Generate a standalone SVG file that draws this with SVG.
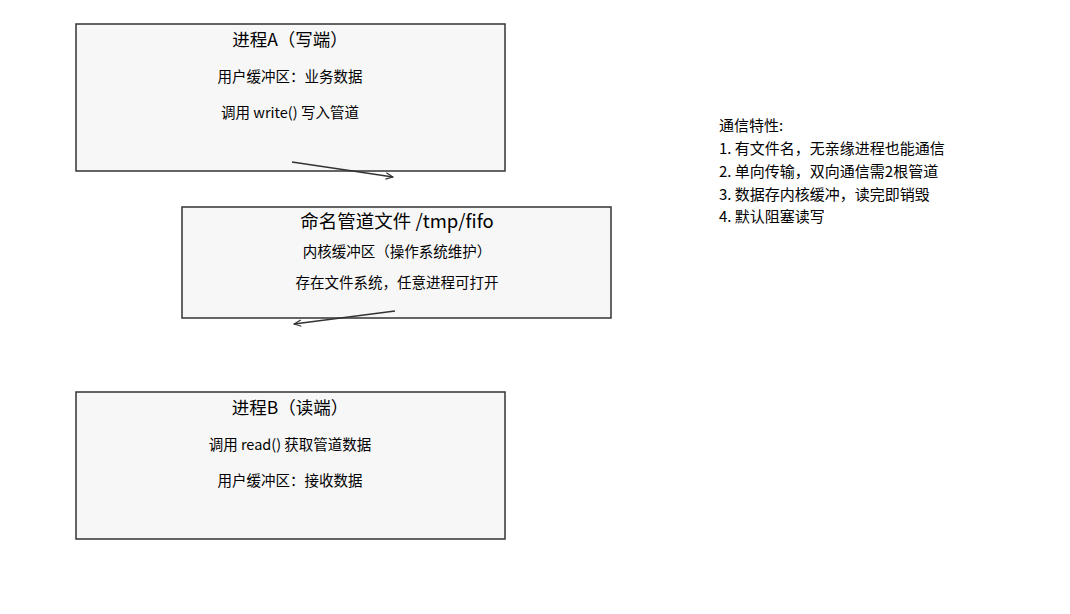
<svg xmlns="http://www.w3.org/2000/svg" width="1070" height="614" viewBox="0 0 1070 614">
<defs>
<style>
.box{fill:#f7f7f7;stroke:#333;stroke-width:1.5}
text{font-family:"Noto Sans CJK SC","Noto Sans",sans-serif;fill:#000}
.t{font-size:17.5px;text-anchor:middle}
.t2{font-size:18.5px;text-anchor:middle}
.l{font-size:14.5px;text-anchor:middle}
.n{font-size:15px}
.c{stroke:#333;stroke-width:1.5;fill:none;marker-end:url(#ah)}
</style>
<marker id="ah" viewBox="0 0 10 10" refX="9" refY="5" markerWidth="8" markerHeight="8" orient="auto" markerUnits="userSpaceOnUse">
<path d="M0,1 L9,5 L0,9" fill="none" stroke="#333" stroke-width="1.5"/>
</marker>
</defs>
<rect width="1070" height="614" fill="#fff"/>
<g id="procA">
<rect class="box" x="76" y="24" width="429" height="147"/>
<text class="t" x="290" y="46">进程A（写端）</text>
<text class="l" x="290" y="82">用户缓冲区：业务数据</text>
<text class="l" x="290" y="118">调用 write() 写入管道</text>
</g>
<g id="fifo">
<rect class="box" x="182" y="207" width="429" height="111"/>
<text class="t2" x="397" y="228">命名管道文件 /tmp/fifo</text>
<text class="l" x="397" y="257">内核缓冲区（操作系统维护）</text>
<text class="l" x="397" y="288">存在文件系统，任意进程可打开</text>
</g>
<g id="procB">
<rect class="box" x="76" y="392" width="429" height="147"/>
<text class="t" x="290" y="414">进程B（读端）</text>
<text class="l" x="290" y="450">调用 read() 获取管道数据</text>
<text class="l" x="290" y="486">用户缓冲区：接收数据</text>
</g>
<g id="notes">
<text class="n" x="719" y="131">通信特性:</text>
<text class="n" x="719" y="154">1. 有文件名，无亲缘进程也能通信</text>
<text class="n" x="719" y="177">2. 单向传输，双向通信需2根管道</text>
<text class="n" x="719" y="200">3. 数据存内核缓冲，读完即销毁</text>
<text class="n" x="719" y="222">4. 默认阻塞读写</text>
</g>
<g id="connectors">
<path class="c" d="M292,162 L393,177"/>
<path class="c" d="M395,311 L294,324"/>
</g>
</svg>
